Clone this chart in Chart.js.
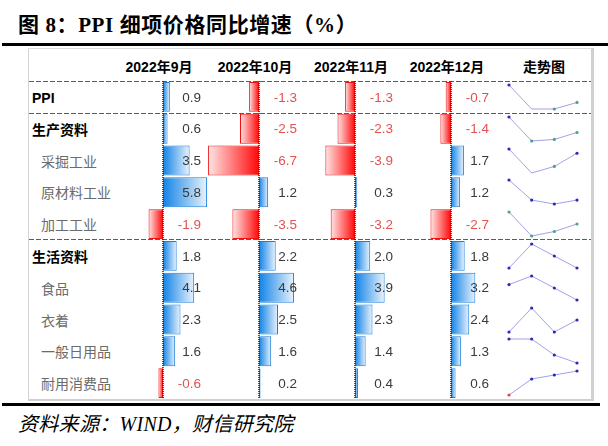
<!DOCTYPE html>
<html>
<head>
<meta charset="utf-8">
<script src="https://cdn.jsdelivr.net/npm/chart.js@4.4.1/dist/chart.umd.min.js"></script>
<style>
html,body{margin:0;padding:0;background:#fff;}
body{width:608px;height:446px;position:relative;overflow:hidden;font-family:"Liberation Sans","Noto Sans CJK SC",sans-serif;}
#title{position:absolute;left:18px;top:13px;font:bold 21px/24px "Liberation Serif","Noto Sans CJK SC",serif;letter-spacing:0.6px;color:#000;white-space:nowrap;}
.rule{position:absolute;left:2px;height:3px;background:#000;}
#panel{position:absolute;left:28px;top:48px;width:566px;height:353px;box-sizing:border-box;border-left:1px solid #d4d4d4;border-top:1px solid #dcdcdc;border-right:3px solid #d0d0d0;border-bottom:2px solid #d0d0d0;}
.hdr{position:absolute;top:59px;font:bold 14px/16px "Liberation Sans","Noto Sans CJK SC",sans-serif;color:#000;transform:translateX(-50%);white-space:nowrap;}
.dash{position:absolute;left:29px;width:562px;height:1px;background:repeating-linear-gradient(to right,#d42a2a 0 5px,transparent 5px 7px);}
.lbl{position:absolute;font-size:14px;line-height:16px;white-space:nowrap;transform:translateY(-50%);}
.lbl.main{left:32px;font-weight:bold;color:#000;}
.lbl.sub{left:41px;color:#6b6b6b;}
canvas{position:absolute;}
#src{position:absolute;left:18px;top:412px;font:italic 20px/24px "Liberation Serif","Noto Sans CJK SC",serif;letter-spacing:0.3px;color:#000;white-space:nowrap;}
</style>
</head>
<body>
<div id="title">图 8：PPI 细项价格同比增速（%）</div>
<div class="rule" style="top:43px;width:606px"></div>
<div id="panel"></div>
<div class="rule" style="top:403px;width:598px"></div>
<div id="src">资料来源：WIND，财信研究院</div>

<script>
// ---- data ----
const rowLabels = ['PPI','生产资料','采掘工业','原材料工业','加工工业','生活资料','食品','衣着','一般日用品','耐用消费品'];
const mainRows  = [0,1,5];
const months    = ['2022年9月','2022年10月','2022年11月','2022年12月'];
const sep22 = [0.9, 0.6, 3.5, 5.8,-1.9, 1.8, 4.1, 2.3, 1.6,-0.6];
const oct22 = [-1.3,-2.5,-6.7, 1.2,-3.5, 2.2, 4.6, 2.5, 1.6, 0.2];
const nov22 = [-1.3,-2.3,-3.9, 0.3,-3.2, 2.0, 3.9, 2.3, 1.4, 0.4];
const dec22 = [-0.7,-1.4, 1.7, 1.2,-2.7, 1.8, 3.2, 2.4, 1.3, 0.6];
const cols  = [sep22, oct22, nov22, dec22];

// ---- layout ----
const TOP = 81, ROW_H = 31.8, PX = 7.6;
const ZERO_X = [163, 259, 355, 451];
const LEFT_PAD = 56, RIGHT_PAD = 46;

const B='#2a2ab8', G='#4aa585', R='#e04a4a';
const sparkColors = [
  [B,null,G,G],[B,G,G,G],[B,null,G,B],[B,B,B,B],[G,G,G,G],
  [B,B,B,B],[B,B,B,B],[B,B,B,B],[B,B,B,B],[R,B,B,B]
];

// dashed separators
[TOP, TOP+ROW_H, TOP+5*ROW_H-1].forEach(y=>{
  const d=document.createElement('div'); d.className='dash'; d.style.top=y+'px';
  document.body.appendChild(d);
});

// headers
months.forEach((m,i)=>{
  const h=document.createElement('div'); h.className='hdr';
  h.style.left=(ZERO_X[i]-4)+'px'; h.textContent=m;
  document.body.appendChild(h);
});
const sh=document.createElement('div'); sh.className='hdr'; sh.style.left='544px'; sh.textContent='走势图';
document.body.appendChild(sh);

// row labels
rowLabels.forEach((t,i)=>{
  const l=document.createElement('div');
  l.className='lbl '+(mainRows.includes(i)?'main':'sub');
  l.style.top=(TOP+ROW_H*(i+0.5)+1)+'px';
  l.textContent=t;
  document.body.appendChild(l);
});

function mkCanvas(x,y,w,h){
  const c=document.createElement('canvas');
  c.width=w; c.height=h;
  c.style.left=x+'px'; c.style.top=y+'px';
  c.style.width=w+'px'; c.style.height=h+'px';
  document.body.appendChild(c);
  return c;
}

function barFill(c){
  const ch=c.chart, v=c.raw;
  const pos = v>=0;
  if(!ch.chartArea || v==null) return pos?'#1e8ae6':'#ff2020';
  const xs=ch.scales.x;
  const x0=xs.getPixelForValue(0), x1=xs.getPixelForValue(v);
  const g=ch.ctx.createLinearGradient(x0,0,x1,0);
  if(pos){ g.addColorStop(0,'#1283e6'); g.addColorStop(1,'#e9f3fd'); }
  else   { g.addColorStop(0,'#ff0808'); g.addColorStop(1,'#ffe6e6'); }
  return g;
}

const zeroAndLabels = {
  id:'zeroAndLabels',
  afterDatasetsDraw(chart){
    const ctx=chart.ctx, xs=chart.scales.x, x0=xs.getPixelForValue(0);
    ctx.save();
    ctx.strokeStyle='#222'; ctx.lineWidth=1.5; ctx.setLineDash([1,1]);
    ctx.beginPath(); ctx.moveTo(x0,0); ctx.lineTo(x0,chart.height); ctx.stroke();
    ctx.setLineDash([]);
    const vals=chart.data.datasets[0].data;
    const meta=chart.getDatasetMeta(0);
    ctx.font='13.5px "Liberation Sans", sans-serif';
    ctx.textAlign='right'; ctx.textBaseline='middle';
    vals.forEach((v,i)=>{
      ctx.fillStyle = v<0 ? '#e65050' : '#3a3a3a';
      ctx.fillText(v.toFixed(1), x0+38, meta.data[i].y+1);
    });
    ctx.restore();
  }
};

cols.forEach((vals,ci)=>{
  const w=LEFT_PAD+RIGHT_PAD, h=Math.round(ROW_H*rowLabels.length);
  const cv=mkCanvas(ZERO_X[ci]-LEFT_PAD, TOP, w, h);
  new Chart(cv.getContext('2d'),{
    type:'bar',
    data:{
      labels:rowLabels,
      datasets:[{
        data:vals,
        backgroundColor:barFill,
        borderColor:c=>c.raw>=0?'#1b7fd8':'#f01010',
        borderWidth:1,
        borderSkipped:false,
        categoryPercentage:1,
        barPercentage:0.94
      }]
    },
    options:{
      indexAxis:'y',
      responsive:false,
      animation:false,
      layout:{padding:0},
      plugins:{legend:{display:false},tooltip:{enabled:false}},
      scales:{
        x:{display:false,min:-LEFT_PAD/PX,max:RIGHT_PAD/PX},
        y:{display:false}
      }
    },
    plugins:[zeroAndLabels]
  });
});

// sparklines, one per row
cols[0].forEach((_,ri)=>{
  const series=cols.map(c=>c[ri]);
  const cv=mkCanvas(505, Math.round(TOP+ROW_H*ri), 76, 32);
  const pc=sparkColors[ri];
  new Chart(cv.getContext('2d'),{
    type:'line',
    data:{
      labels:months,
      datasets:[{
        data:series,
        borderColor:'rgba(110,110,225,0.65)',
        borderWidth:1,
        tension:0,
        clip:false,
        pointRadius:pc.map(c=>c?1.6:0),
        pointBackgroundColor:pc.map(c=>c||'#000'),
        pointBorderWidth:0
      }]
    },
    options:{
      responsive:false,
      animation:false,
      layout:{padding:{left:3,right:3,top:2,bottom:4}},
      plugins:{legend:{display:false},tooltip:{enabled:false}},
      scales:{
        x:{display:false},
        y:{display:false,min:Math.min(...series),max:Math.max(...series)}
      }
    }
  });
});
</script>
</body>
</html>
